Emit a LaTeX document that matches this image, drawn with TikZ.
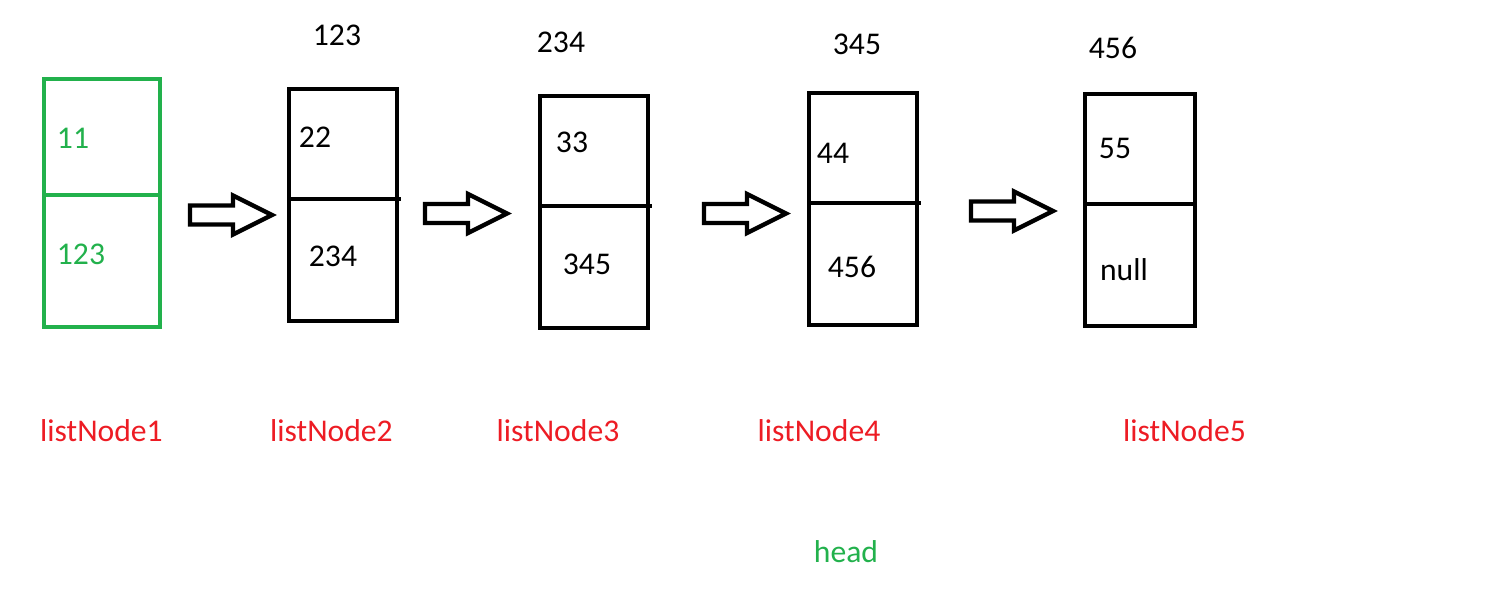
\documentclass[tikz,border=0pt]{standalone}
\usepackage{fontspec}
\setmainfont{Carlito}
\definecolor{paintgreen}{RGB}{34,177,76}
\definecolor{paintred}{RGB}{237,28,36}
\tikzset{
  cell/.style={line width=2.8pt},
  blockarrow/.style={line width=2.5pt},
  val/.style={inner sep=0pt, font=\fontsize{18pt}{22pt}\selectfont},
  lbl/.style={val, text=paintred}
}
\begin{document}
\begin{tikzpicture}[x=0.02cm, y=-0.02cm]

  \useasboundingbox (0,0) rectangle (1489,613);

  % boxes
  \draw [cell, draw=paintgreen] (44,79) rectangle (160,327);
  \draw [cell, draw=paintgreen] (44,195) -- (160,195);

  \draw [cell] (289,89) rectangle (397,321);
  \draw [cell] (289,199) -- (401,199);

  \draw [cell] (540,96) rectangle (648,328);
  \draw [cell] (540,206) -- (652,206);

  \draw [cell] (809,93) rectangle (917,325);
  \draw [cell] (809,203) -- (921,203);

  \draw [cell] (1085,94) rectangle (1195,326);
  \draw [cell] (1085,204) -- (1197,204);

  % arrows
  \foreach \x/\y in {190/215, 425/213.5, 704/213.5, 971/211}
    \draw [blockarrow] (\x,\y-9.5) -- (\x+43,\y-9.5) -- (\x+43,\y-19.5)
      -- (\x+82,\y) -- (\x+43,\y+19.5) -- (\x+43,\y+9.5) -- (\x,\y+9.5) -- cycle;

  % addresses
  \node [val] (p2) at (337,35) {123};
  \node [val] (p3) at (561,42) {234};
  \node [val] (p4) at (857,44) {345};
  \node [val] (p5) at (1113,48) {456};

  % values and next
  \node [val, text=paintgreen] (v1) at (73,138) {11};
  \node [val, text=paintgreen] (n1) at (81,254) {123};
  \node [val] (v2) at (315,137) {22};
  \node [val] (n2) at (333,256) {234};
  \node [val] (v3) at (572,142) {33};
  \node [val] (n3) at (587,264) {345};
  \node [val] (v4) at (833,153) {44};
  \node [val] (n4) at (852,267) {456};
  \node [val] (v5) at (1115,148) {55};
  \node [val] (n5) at (1124,269.5) {null};

  % names
  \node [lbl] (l1) at (101.5,430.5) {listNode1};
  \node [lbl] (l2) at (331.5,430.5) {listNode2};
  \node [lbl] (l3) at (558,430.5) {listNode3};
  \node [lbl] (l4) at (819,430.5) {listNode4};
  \node [lbl] (l5) at (1184.5,430.5) {listNode5};

  \node [val, text=paintgreen] (head) at (846,551.5) {head};

\end{tikzpicture}
\end{document}
